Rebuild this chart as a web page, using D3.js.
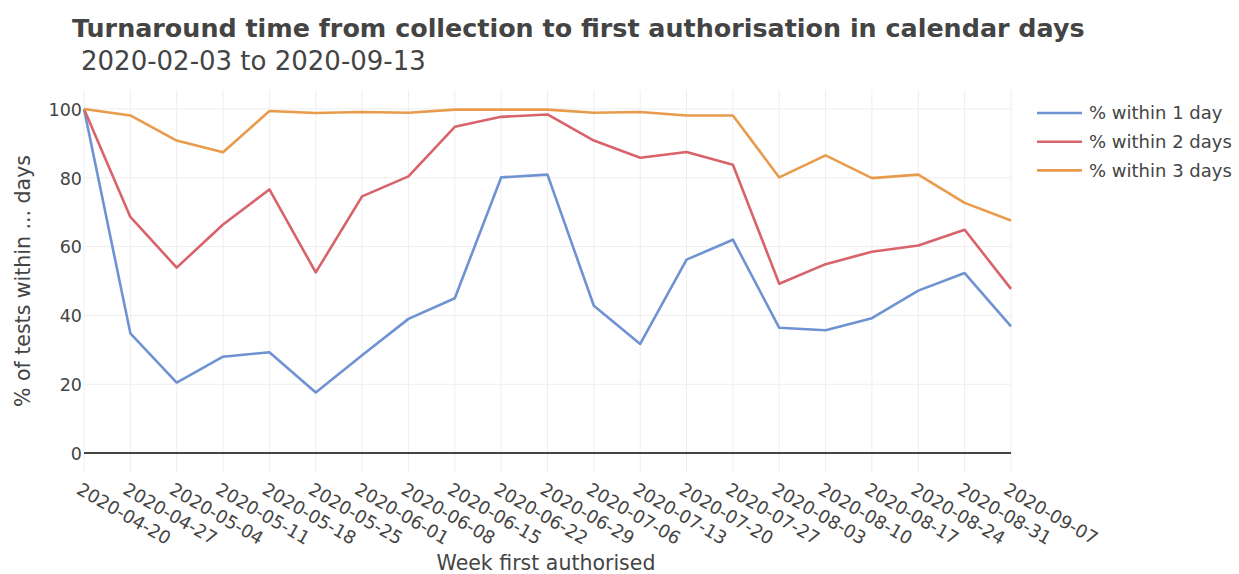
<!doctype html>
<html>
<head>
<script src="https://cdnjs.cloudflare.com/ajax/libs/d3/7.8.5/d3.min.js"></script>
<style>
  body { margin: 0; background: #fff; }
  svg text { font-family: "DejaVu Sans", Verdana, sans-serif; fill: #444; }
  .grid line { stroke: #eee; stroke-width: 1; }
</style>
</head>
<body>
<div id="viz"></div>
<script>
// weeks on the x axis
var weeks = ["2020-04-20", "2020-04-27", "2020-05-04", "2020-05-11", "2020-05-18", "2020-05-25",
  "2020-06-01", "2020-06-08", "2020-06-15", "2020-06-22", "2020-06-29", "2020-07-06",
  "2020-07-13", "2020-07-20", "2020-07-27", "2020-08-03", "2020-08-10", "2020-08-17",
  "2020-08-24", "2020-08-31", "2020-09-07"];

var within1 = [100, 34.8, 20.5, 28.0, 29.3, 17.6, 28.4, 39.0, 45.0, 80.1, 80.9,
  42.8, 31.7, 56.2, 62.0, 36.4, 35.7, 39.2, 47.2, 52.3, 36.8];
var within2 = [100, 68.6, 53.9, 66.4, 76.6, 52.5, 74.6, 80.4, 94.8, 97.7, 98.4,
  90.8, 85.8, 87.5, 83.8, 49.2, 54.9, 58.5, 60.3, 64.9, 47.7];
var within3 = [100, 98.1, 90.8, 87.4, 99.4, 98.8, 99.1, 98.9, 99.8, 99.8, 99.8,
  98.9, 99.1, 98.1, 98.1, 80.1, 86.5, 79.9, 80.9, 72.7, 67.6];

var seriesNames = ["% within 1 day", "% within 2 days", "% within 3 days"];
var seriesColors = ["#6f93d2", "#d8636a", "#e99b4c"];
var yTicks = [0, 20, 40, 60, 80, 100];

var width = 1239, height = 574;
var margin = { top: 90, right: 228, bottom: 102, left: 84 };

var svg = d3.select("#viz").append("svg")
  .attr("width", width)
  .attr("height", height);

var x = d3.scalePoint()
  .domain(weeks)
  .range([margin.left, width - margin.right]);

var y = d3.scaleLinear()
  .domain([-5.5, 105.5])
  .range([height - margin.bottom, margin.top]);

// grid lines
svg.append("g").attr("class", "grid")
  .selectAll("line.v")
  .data(weeks)
  .enter().append("line")
  .attr("x1", d => x(d)).attr("x2", d => x(d))
  .attr("y1", margin.top).attr("y2", height - margin.bottom);

svg.append("g").attr("class", "grid")
  .selectAll("line.h")
  .data(yTicks.filter(d => d != 0))
  .enter().append("line")
  .attr("x1", margin.left).attr("x2", width - margin.right)
  .attr("y1", d => y(d)).attr("y2", d => y(d));

// zero line
svg.append("line")
  .attr("x1", margin.left).attr("x2", width - margin.right)
  .attr("y1", y(0)).attr("y2", y(0))
  .attr("stroke", "#444").attr("stroke-width", 2);

// y axis
var yAxis = svg.append("g")
  .attr("transform", "translate(" + (margin.left - 2) + ",0)")
  .call(d3.axisLeft(y).tickValues(yTicks).tickSize(0).tickPadding(0));
yAxis.select(".domain").remove();
yAxis.selectAll("text")
  .style("font-size", "17.5px")
  .attr("dy", "0.36em");

// x axis
var xAxis = svg.append("g")
  .attr("transform", "translate(0," + (height - margin.bottom) + ")")
  .call(d3.axisBottom(x).tickSize(0));
xAxis.select(".domain").remove();
xAxis.selectAll("text")
  .style("font-size", "18px")
  .style("text-anchor", "start")
  .attr("y", 0).attr("dy", 0)
  .attr("transform", "translate(-9,21) rotate(30)");

// lines
var allSeries = [within1, within2, within3];
var line = d3.line()
  .x((d, i) => x(weeks[i]))
  .y(d => y(d));

svg.append("g").selectAll("path")
  .data(allSeries)
  .enter().append("path")
  .attr("d", line)
  .attr("fill", "none")
  .attr("stroke", (d, i) => seriesColors[i])
  .attr("stroke-width", 2.6)
  .attr("stroke-linejoin", "round");

// titles
svg.append("text")
  .attr("x", 72).attr("y", 37)
  .style("font-size", "25.4px").style("font-weight", "bold")
  .text("Turnaround time from collection to first authorisation in calendar days");

svg.append("text")
  .attr("x", 81).attr("y", 70)
  .style("font-size", "26px")
  .text("2020-02-03 to 2020-09-13");

svg.append("text")
  .attr("transform", "translate(30," + ((margin.top + height - margin.bottom) / 2) + ") rotate(-90)")
  .style("font-size", "20.5px")
  .style("text-anchor", "middle")
  .text("% of tests within ... days");

svg.append("text")
  .attr("x", 546).attr("y", 570)
  .style("font-size", "20.5px")
  .style("text-anchor", "middle")
  .text("Week first authorised");

// legend
var legend = svg.append("g")
  .selectAll("g")
  .data(seriesNames)
  .enter().append("g")
  .attr("transform", (d, i) => "translate(1037," + (113 + i * 28.7) + ")");

legend.append("line")
  .attr("x1", 0).attr("x2", 45)
  .attr("stroke", (d, i) => seriesColors[i])
  .attr("stroke-width", 2.6);

legend.append("text")
  .attr("x", 52).attr("dy", "0.36em")
  .style("font-size", "18px")
  .text(d => d);
</script>
</body>
</html>
